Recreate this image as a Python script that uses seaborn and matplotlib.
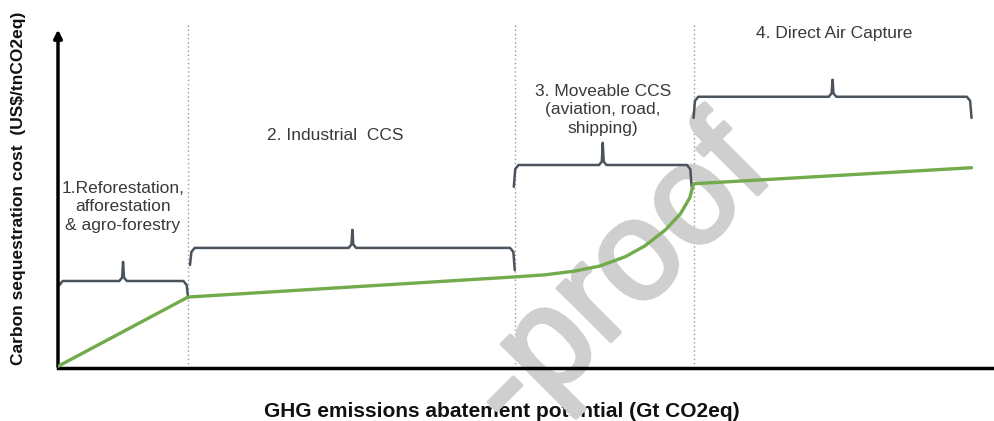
import numpy as np
import pandas as pd
import matplotlib.pyplot as plt
import matplotlib.patheffects as pe
import seaborn as sns

# cost curve (arbitrary units, 0-100 on both axes)
curve_x = [0.0, 13.9, 48.8, 52.0, 55.2, 57.9, 60.6, 62.7, 64.9, 66.5, 67.5, 67.9, 97.6]
curve_y = [0.5, 20.8, 26.7, 27.3, 28.4, 29.9, 32.6, 35.8, 40.5, 45.2, 49.9, 54.0, 58.7]

# boundaries between the four options
bounds = [13.9, 48.8, 67.9]

# braces: start, end, level, tip height, left drop, right drop
brace_x0 = [0.0, 14.1, 48.7, 67.9]
brace_x1 = [13.9, 48.8, 67.7, 97.6]
brace_y = [25.5, 35.2, 59.5, 79.5]
brace_tip = [31.1, 40.5, 66.0, 84.5]
brace_drop_l = [25.5, 30.2, 53.1, 73.3]
brace_drop_r = [20.5, 28.7, 53.1, 73.3]

labels = ["1.Reforestation,\nafforestation\n& agro-forestry",
          "2. Industrial  CCS",
          "3. Moveable CCS\n(aviation, road,\nshipping)",
          "4. Direct Air Capture"]
label_x = [6.9, 29.6, 58.2, 82.9]
label_y = [47.2, 68.0, 75.7, 97.9]

sns.set_theme(style="white")
plt.rcParams['font.family'] = ['Liberation Sans', 'DejaVu Sans']

fig = plt.figure(figsize=(9.94, 4.21), dpi=100)
ax = fig.add_axes([58/994, 53/421, 936/994, 348/421])

df = pd.DataFrame({"x": curve_x, "y": curve_y})
sns.lineplot(data=df, x="x", y="y", sort=False, color="#72ab4c", lw=2.4, ax=ax, zorder=4)

for b in bounds:
    ax.plot([b, b], [0, 101.5], ls=(0, (1, 2)), color="#9a9a9a", lw=1, zorder=1, clip_on=False)

for x0, x1, yb, tip, dl, dr in zip(brace_x0, brace_x1, brace_y, brace_tip, brace_drop_l, brace_drop_r):
    xm = (x0 + x1) / 2
    bx = [x0, x0 + 0.15, x0 + 0.5, xm - 0.4, xm - 0.1, xm, xm + 0.1, xm + 0.4, x1 - 0.5, x1 - 0.15, x1]
    by = [dl, yb - 1.2, yb, yb, yb + 1.0, tip, yb + 1.0, yb, yb, yb - 1.2, dr]
    ax.plot(bx, by, color="#4b535c", lw=1.8, zorder=3, solid_joinstyle="round")

for t, x, y in zip(labels, label_x, label_y):
    ax.text(x, y, t, ha="center", va="center", fontsize=12.5, color="#3a3a3a",
            linespacing=1.3, zorder=5)

# watermark
ax.text(60.0, 25.8, "-proof", rotation=45, fontsize=102, color="#cfcfcf",
        ha="center", va="center", zorder=1.6, clip_on=False,
        path_effects=[pe.withStroke(linewidth=3, foreground="#cfcfcf")])

ax.set_xlim(0, 100)
ax.set_ylim(0, 102)
ax.set_xticks([])
ax.set_yticks([])
for s in ["top", "right", "left"]:
    ax.spines[s].set_visible(False)
ax.spines["bottom"].set_color("black")
ax.spines["bottom"].set_linewidth(2.5)
ax.annotate("", xy=(0, 100), xytext=(0, -0.4),
            arrowprops=dict(arrowstyle="-|>", lw=2.5, color="black", mutation_scale=12))

ax.set_xlabel("GHG emissions abatement potential (Gt CO2eq)", fontsize=15,
              fontweight="bold", color="#111111")
ax.set_ylabel("Carbon sequestration cost  (US$/tnCO2eq)", fontsize=12.5,
              fontweight="bold", color="#111111")
ax.xaxis.set_label_coords(0.474, -0.098)
ax.yaxis.set_label_coords(-0.034, 0.517)

fig.savefig("out.png", dpi=100)
